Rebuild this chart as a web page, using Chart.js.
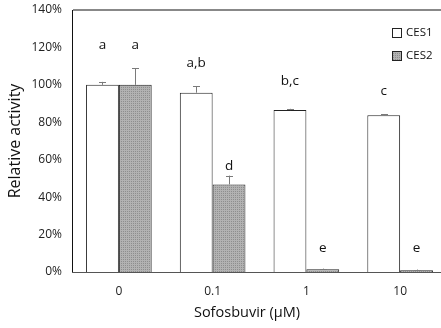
<!DOCTYPE html>
<html>
<head>
<meta charset="utf-8">
<script src="https://cdn.jsdelivr.net/npm/chart.js@4"></script>
<style>
  html, body { margin: 0; padding: 0; background: #fff; overflow: hidden; }
  #wrap { width: 450px; height: 328px; position: relative; }
</style>
</head>
<body>
<div id="wrap"><canvas id="grafica"></canvas></div>
<script>
const dosis = ["0", "0.1", "1", "10"];
const ces1 = [100, 95.8, 86.5, 83.8];
const ces2 = [100, 46.8, 1.5, 1.0];
const errCes1 = [1.6, 3.4, 0.7, 0.5];
const errCes2 = [9.0, 4.7, 0.3, 0.3];
const letrasCes1 = ["a", "a,b", "b,c", "c"];
const letrasCes2 = ["a", "d", "e", "e"];
// altura (en %) donde va cada letra
const nivelCes1 = [121, 111.5, 101.8, 96.4];
const nivelCes2 = [121, 56.5, 13, 13];

const FONT = "'Open Sans', 'Liberation Sans', sans-serif";

function patronGris() {
  const c = document.createElement("canvas");
  c.width = 2;
  c.height = 2;
  const g = c.getContext("2d");
  g.fillStyle = "#8e8e8e";
  g.fillRect(0, 0, 2, 2);
  g.fillStyle = "#b2b2b2";
  g.fillRect(0, 0, 2, 1);
  g.fillRect(0, 0, 1, 2);
  return g.createPattern(c, "repeat");
}

const barrasError = {
  id: "barrasError",
  afterDatasetsDraw(chart) {
    const ctx = chart.ctx;
    const y = chart.scales.y;
    const errores = [errCes1, errCes2];
    const letras = [letrasCes1, letrasCes2];
    const niveles = [nivelCes1, nivelCes2];
    chart.data.datasets.forEach((ds, i) => {
      const meta = chart.getDatasetMeta(i);
      meta.data.forEach((bar, j) => {
        const top = y.getPixelForValue(ds.data[j] + errores[i][j]);
        ctx.save();
        ctx.strokeStyle = "#7a7a7a";
        ctx.lineWidth = 1;
        ctx.beginPath();
        ctx.moveTo(Math.round(bar.x) + 0.5, bar.y);
        ctx.lineTo(Math.round(bar.x) + 0.5, top);
        ctx.moveTo(Math.round(bar.x) - 3, Math.round(top) + 0.5);
        ctx.lineTo(Math.round(bar.x) + 4, Math.round(top) + 0.5);
        ctx.stroke();
        ctx.fillStyle = "#111";
        ctx.font = "13.5px " + FONT;
        ctx.textAlign = "center";
        ctx.textBaseline = "middle";
        ctx.fillText(letras[i][j], bar.x, y.getPixelForValue(niveles[i][j]));
        ctx.restore();
      });
    });
    // leyenda
    const leyX = 392;
    chart.data.datasets.forEach((ds, i) => {
      const ly = 33 + i * 23;
      ctx.save();
      ctx.fillStyle = ds.backgroundColor;
      ctx.fillRect(leyX, ly - 5, 10, 10);
      ctx.strokeStyle = "#222";
      ctx.lineWidth = 1;
      ctx.strokeRect(leyX + 0.5, ly - 4.5, 9, 9);
      ctx.fillStyle = "#111";
      ctx.font = "11.5px " + FONT;
      ctx.textAlign = "left";
      ctx.textBaseline = "middle";
      ctx.fillText(ds.label, leyX + 14, ly);
      ctx.restore();
    });
    // titulo eje x
    ctx.save();
    ctx.fillStyle = "#111";
    ctx.font = "14.5px " + FONT;
    ctx.textAlign = "center";
    ctx.textBaseline = "middle";
    ctx.fillText("Sofosbuvir (μM)", 247, 313);
    ctx.restore();
  },
};

const cxt = document.getElementById("grafica");
const myChart = new Chart(cxt, {
  type: "bar",
  data: {
    labels: dosis,
    datasets: [
      {
        label: "CES1",
        data: ces1,
        backgroundColor: "#ffffff",
        borderColor: "#222",
        borderWidth: 1,
        categoryPercentage: 0.7,
        barPercentage: 1,
      },
      {
        label: "CES2",
        data: ces2,
        backgroundColor: patronGris(),
        borderColor: "#222",
        borderWidth: 1,
        categoryPercentage: 0.7,
        barPercentage: 1,
      },
    ],
  },
  options: {
    responsive: true,
    maintainAspectRatio: false,
    animation: false,
    layout: { padding: { top: 10, right: 3, left: 0, bottom: 0 } },
    plugins: {
      legend: { display: false },
      tooltip: { enabled: false },
    },
    scales: {
      x: {
        grid: { display: false, drawTicks: false },
        border: { color: "#555", width: 1 },
        ticks: { color: "#222", font: { family: FONT, size: 12 }, padding: 12 },
        afterFit: (axis) => { axis.height = 56; },
      },
      y: {
        min: 0,
        max: 140,
        ticks: {
          stepSize: 20,
          callback: (v) => v + "%",
          color: "#222",
          font: { family: FONT, size: 12 },
          padding: 10,
        },
        grid: {
          drawTicks: false,
          color: (c) => (c.tick && c.tick.value === 140 ? "#888" : "rgba(0,0,0,0)"),
          lineWidth: (c) => (c.tick && c.tick.value === 140 ? 2 : 0),
        },
        border: { color: "#111", width: 1 },
        title: {
          display: true,
          text: "Relative activity",
          color: "#111",
          font: { family: FONT, size: 16 },
          padding: { top: 6, bottom: 4 },
        },
        afterFit: (axis) => {
          axis.width = 72;
          axis.paddingTop = 0;
          axis.paddingBottom = 0;
        },
      },
    },
  },
  plugins: [barrasError],
});
</script>
</body>
</html>
